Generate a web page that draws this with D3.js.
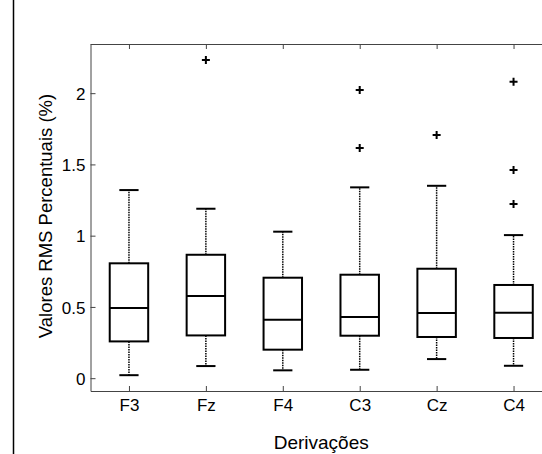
<!DOCTYPE html>
<html>
<head>
<meta charset="utf-8">
<script src="https://cdn.jsdelivr.net/npm/d3@7"></script>
<style>
  body { margin: 0; background: #fff; }
  svg { display: block; font-family: "Liberation Sans", Arial, sans-serif; }
</style>
</head>
<body>
<div id="chart"></div>
<script>
// box plot values
var categories = ["F3", "Fz", "F4", "C3", "Cz", "C4"];
var lowerWhisker = [0.021, 0.085, 0.055, 0.059, 0.134, 0.087];
var q1 = [0.258, 0.300, 0.200, 0.298, 0.289, 0.282];
var median = [0.492, 0.576, 0.410, 0.429, 0.457, 0.459];
var q3 = [0.806, 0.866, 0.705, 0.726, 0.768, 0.654];
var upperWhisker = [1.320, 1.189, 1.028, 1.339, 1.350, 1.004];
var outliers = [[], [2.232], [], [2.022, 1.615], [1.706], [2.080, 1.461, 1.222]];
var yTicks = [0, 0.5, 1, 1.5, 2];

var width = 542, height = 454;
var margin = { top: 44, left: 90.5, bottom: 391 };
var plotRight = 552;

var data = categories.map(function(c, i) {
  return { name: c, pos: i + 1, lo: lowerWhisker[i], q1: q1[i], med: median[i],
           q3: q3[i], hi: upperWhisker[i], out: outliers[i] };
});

var svg = d3.select("#chart").append("svg")
  .attr("width", width)
  .attr("height", height);

var x = d3.scaleLinear().domain([0.5, 6.5]).range([margin.left, plotRight]);
var y = d3.scaleLinear().domain([-0.09, 2.345]).range([margin.bottom, margin.top]);

var axisColor = "#444";

// left rule of the page
svg.append("line")
  .attr("x1", 13.5).attr("x2", 13.5)
  .attr("y1", 0).attr("y2", height)
  .attr("stroke", "#000").attr("stroke-width", 1.5);

// frame
svg.append("line")
  .attr("x1", margin.left).attr("x2", plotRight)
  .attr("y1", margin.top + 0.5).attr("y2", margin.top + 0.5)
  .attr("stroke", axisColor);

var yAxis = d3.axisLeft(y)
  .tickValues(yTicks)
  .tickFormat(function(d) { return d; })
  .tickSizeInner(-5)
  .tickSizeOuter(0)
  .tickPadding(5);
var gy = svg.append("g")
  .attr("transform", "translate(" + margin.left + ",0)")
  .call(yAxis);

var xAxis = d3.axisBottom(x)
  .tickValues(d3.range(1, 7))
  .tickFormat(function(d) { return categories[d - 1]; })
  .tickSizeInner(-5)
  .tickSizeOuter(0);
var gx = svg.append("g")
  .attr("transform", "translate(0," + margin.bottom + ")")
  .call(xAxis);

var xTop = d3.axisTop(x)
  .tickValues(d3.range(1, 7))
  .tickFormat("")
  .tickSizeInner(-5)
  .tickSizeOuter(0);
var gt = svg.append("g")
  .attr("transform", "translate(0," + margin.top + ")")
  .call(xTop);
gt.select(".domain").remove();

[gx, gy, gt].forEach(function(g) {
  g.selectAll(".domain, .tick line").attr("stroke", axisColor);
  g.selectAll("text").attr("fill", "#000").attr("font-size", 17);
});
gy.selectAll("text").attr("dy", "0.36em");
gx.selectAll("text").attr("y", 19.5).attr("dy", 0);

// axis titles
svg.append("text")
  .attr("x", (margin.left + plotRight) / 2).attr("y", 449)
  .attr("text-anchor", "middle")
  .attr("font-size", 19)
  .text("Derivações");
svg.append("text")
  .attr("transform", "translate(52,216)rotate(-90)")
  .attr("text-anchor", "middle")
  .attr("font-size", 18.5)
  .text("Valores RMS Percentuais (%)");

var boxW = (x(1.25) - x(0.75));
var capW = boxW / 2;

var boxes = svg.selectAll(".box")
  .data(data)
  .enter()
  .append("g")
  .attr("class", "box");

// whiskers
boxes.append("line")
  .attr("x1", function(d) { return x(d.pos); })
  .attr("x2", function(d) { return x(d.pos); })
  .attr("y1", function(d) { return y(d.q3); })
  .attr("y2", function(d) { return y(d.hi); })
  .attr("stroke", "#000").attr("stroke-width", 1.5)
  .attr("stroke-dasharray", "1.5,1");
boxes.append("line")
  .attr("x1", function(d) { return x(d.pos); })
  .attr("x2", function(d) { return x(d.pos); })
  .attr("y1", function(d) { return y(d.q1); })
  .attr("y2", function(d) { return y(d.lo); })
  .attr("stroke", "#000").attr("stroke-width", 1.5)
  .attr("stroke-dasharray", "1.5,1");

// caps
["hi", "lo"].forEach(function(k) {
  boxes.append("line")
    .attr("x1", function(d) { return x(d.pos) - capW / 2; })
    .attr("x2", function(d) { return x(d.pos) + capW / 2; })
    .attr("y1", function(d) { return y(d[k]); })
    .attr("y2", function(d) { return y(d[k]); })
    .attr("stroke", "#000").attr("stroke-width", 2);
});

// boxes
boxes.append("rect")
  .attr("x", function(d) { return x(d.pos) - boxW / 2; })
  .attr("y", function(d) { return y(d.q3); })
  .attr("width", boxW)
  .attr("height", function(d) { return y(d.q1) - y(d.q3); })
  .attr("fill", "none")
  .attr("stroke", "#000").attr("stroke-width", 2);

// medians
boxes.append("line")
  .attr("x1", function(d) { return x(d.pos) - boxW / 2; })
  .attr("x2", function(d) { return x(d.pos) + boxW / 2; })
  .attr("y1", function(d) { return y(d.med); })
  .attr("y2", function(d) { return y(d.med); })
  .attr("stroke", "#000").attr("stroke-width", 2);

// outliers
boxes.selectAll(".out")
  .data(function(d) { return d.out.map(function(v) { return { pos: d.pos, v: v }; }); })
  .enter()
  .append("path")
  .attr("class", "out")
  .attr("d", function(o) {
    var cx = x(o.pos), cy = y(o.v), r = 4;
    return "M" + (cx - r) + "," + cy + "H" + (cx + r) + "M" + cx + "," + (cy - r) + "V" + (cy + r);
  })
  .attr("stroke", "#000").attr("stroke-width", 2);
</script>
</body>
</html>
